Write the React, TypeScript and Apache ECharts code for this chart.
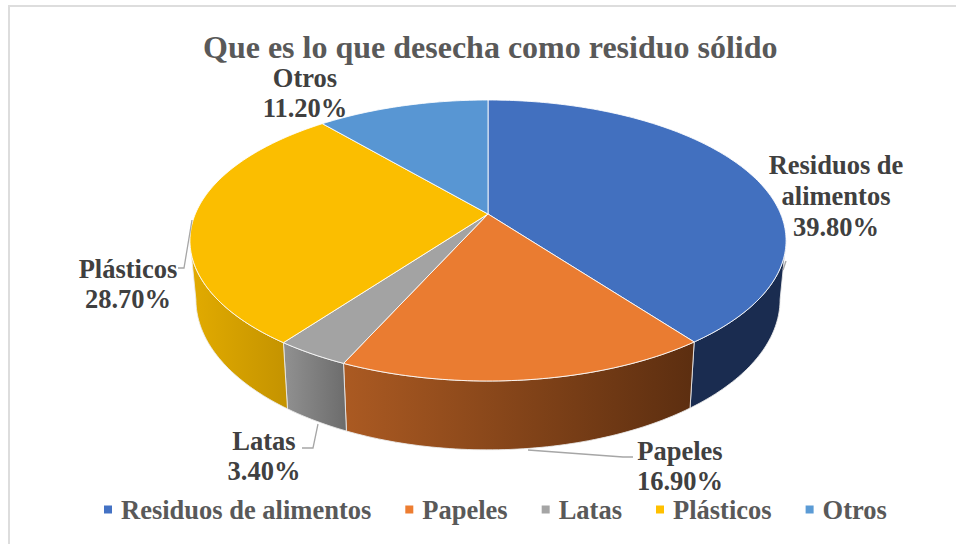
import React, { useEffect, useRef } from "react";
import * as echarts from "echarts";

const titleText = "Que es lo que desecha como residuo sólido";
const categories = ["Residuos de alimentos", "Papeles", "Latas", "Plásticos", "Otros"];
const labelNames = ["Residuos de\nalimentos", "Papeles", "Latas", "Plásticos", "Otros"];
const values = [39.8, 16.9, 3.4, 28.7, 11.2];
const topColors = ["#4472C4", "#ED7D31", "#A5A5A5", "#FFC000", "#5B9BD5"];
const topFill = ["#4270BF", "#EA7C31", "#A3A3A3", "#FBBE00", "#5896D3"];
const sideStops = [
  ["#1A2C50", "#1A2C50"],
  ["#AB5A22", "#5C2E10"],
  ["#919191", "#6C6C6C"],
  ["#E2AB00", "#C49300"],
  ["#2F5F8F", "#2F5F8F"],
];
const labelCenters = [
  [836, 196],
  [680, 466],
  [264, 456],
  [128, 284],
  [305, 93],
];
const leaderLines = [
  [[786, 261], [783, 270]],
  [[528, 450], [623, 457], [633, 457]],
  [[318, 424], [313, 448], [302, 448]],
  [[192, 220], [184, 268], [178, 268]],
  [],
];

const FONT = "'Liberation Serif', 'Times New Roman', serif";
const APEX_X = 488;
const APEX_Y = 214;
const A = 292.7;
const B = 135.5;
const P = 0.1886;
const total = values.reduce((s, v) => s + v, 0);

// project a rim angle (0 = back, clockwise) onto the tilted top plane
const topPoint = (deg: number): number[] => {
  const r = (deg * Math.PI) / 180;
  const u = Math.sin(r);
  const v = -Math.cos(r);
  const k = 1 - P * v;
  return [APEX_X + (A * u) / k, APEX_Y + (B * v) / k];
};
const bottomPoint = (deg: number): number[] => {
  const [x, y] = topPoint(deg);
  return [APEX_X + 0.98 * (x - APEX_X), y + 59 + 0.07 * (y - 240)];
};
const arcAngles = (a: number, b: number): number[] => {
  const out: number[] = [];
  for (let d = a; d < b; d += 1) out.push(d);
  out.push(b);
  return out;
};
const SIL_L = (Math.acos(-P) * 180) / Math.PI;
const SIL_R = 360 - SIL_L;

const startAngle = (i: number) =>
  (values.slice(0, i).reduce((s, v) => s + v, 0) / total) * 360;

const makeRender = (i: number) => () => {
  const a1 = startAngle(i);
  const a2 = a1 + (values[i] / total) * 360;
  const children: any[] = [];
  const s1 = Math.max(a1, SIL_L);
  const s2 = Math.min(a2, SIL_R);
  if (s2 > s1) {
    const angs = arcAngles(s1, s2);
    const pts = [...angs.map(topPoint), ...angs.slice().reverse().map(bottomPoint)];
    const xs = pts.map((p) => p[0]);
    children.push({
      type: "polygon",
      shape: { points: pts },
      style: {
        fill: new echarts.graphic.LinearGradient(
          Math.min(...xs), 0, Math.max(...xs), 0,
          [
            { offset: 0, color: sideStops[i][0] },
            { offset: 1, color: sideStops[i][1] },
          ],
          true
        ),
        stroke: "rgba(235,235,235,0.85)",
        lineWidth: 1,
      },
    });
  }
  children.push({
    type: "polygon",
    shape: { points: [[APEX_X, APEX_Y], ...arcAngles(a1, a2).map(topPoint)] },
    style: { fill: topFill[i], stroke: "rgba(255,255,255,0.85)", lineWidth: 1 },
  });
  return { type: "group", children };
};

const percentText = (v: number) => `${v.toFixed(2)}%`;

export default function App() {
  const ref = useRef<HTMLDivElement>(null);
  useEffect(() => {
    document.body.style.margin = "0";
    const chart = echarts.init(ref.current!, undefined, { renderer: "svg" });
    const labelGraphics: any[] = [];
    leaderLines.forEach((pts) => {
      if (pts.length)
        labelGraphics.push({
          type: "polyline",
          z: 20,
          shape: { points: pts },
          style: { stroke: "#A6A6A6", lineWidth: 1.3, fill: "none" },
        });
    });
    values.forEach((v, i) => {
      labelGraphics.push({
        type: "text",
        z: 21,
        x: labelCenters[i][0],
        y: labelCenters[i][1],
        style: {
          text: `${labelNames[i]}\n${percentText(v)}`,
          fontFamily: FONT,
          fontWeight: "bold",
          fontSize: 26.5,
          lineHeight: 30.6,
          fill: "#404040",
          align: "center",
          verticalAlign: "middle",
        },
      });
    });
    chart.setOption({
      animation: false,
      backgroundColor: "#ffffff",
      title: {
        text: titleText,
        left: 198,
        top: 26,
        textStyle: { fontFamily: FONT, fontWeight: "bold", fontSize: 32, color: "#595959" },
      },
      legend: {
        data: categories,
        left: 99,
        top: 491,
        icon: "rect",
        itemWidth: 8,
        itemHeight: 8,
        itemGap: 34,
        selectedMode: false,
        textStyle: {
          fontFamily: FONT,
          fontWeight: "bold",
          fontSize: 26.5,
          color: "#595959",
          padding: [0, 0, 0, 4],
        },
      },
      graphic: [
        {
          type: "polyline",
          z: 0,
          shape: { points: [[9, 544], [9, 6], [956, 6]] },
          style: { stroke: "#DDDDDD", lineWidth: 2, fill: "none" },
        },
        ...labelGraphics,
      ],
      series: categories.map((name, i) => ({
        type: "custom",
        name,
        coordinateSystem: "none",
        silent: true,
        itemStyle: { color: topColors[i] },
        data: [values[i]],
        renderItem: makeRender(i),
      })),
    });
    return () => chart.dispose();
  }, []);
  return <div ref={ref} style={{ width: 956, height: 544 }} />;
}
